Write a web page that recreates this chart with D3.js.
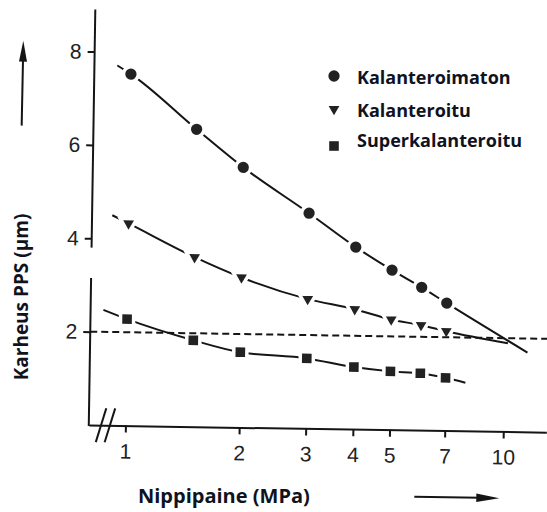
<!DOCTYPE html>
<html>
<head>
<meta charset="utf-8">
<script src="https://cdn.jsdelivr.net/npm/d3@7/dist/d3.min.js"></script>
<style>
  html, body { margin: 0; padding: 0; background: #fff; }
  svg { display: block; }
</style>
</head>
<body>
<svg id="chart" width="547" height="512"></svg>
<script>
// ---- data ----
const seriesNames = ["Kalanteroimaton", "Kalanteroitu", "Superkalanteroitu"];
const pressure = [1, 1.5, 2, 3, 4, 5, 6, 7];                 // MPa
const kalanteroimaton   = [7.53, 6.37, 5.57, 4.61, 3.90, 3.42, 3.06, 2.73];
const kalanteroitu      = [4.33, 3.63, 3.21, 2.77, 2.57, 2.36, 2.25, 2.13];
const superkalanteroitu = [2.28, 1.85, 1.61, 1.50, 1.33, 1.25, 1.22, 1.13];
// fitted-curve end points (extensions of each trend line)
const fitStartX = [0.92, 0.905, 0.865];
const fitStartY = [7.71, 4.50, 2.47];
const fitEndX   = [11.5, 10.2, 7.9];
const fitEndY   = [1.70, 1.89, 1.03];
const refLevel = 2;                       // dashed reference line
const xTicks = [1, 2, 3, 4, 5, 7, 10];
const yTicks = [2, 4, 6, 8];
const yBreak = [3.8, 3.15];               // gap in the y axis
const xBreak = [0.862, 0.91];             // "//" marks on the x axis
const xTitle = "Nippipaine (MPa)";
const yTitle = "Karheus PPS (µm)";

const allSeries = [kalanteroimaton, kalanteroitu, superkalanteroitu];
const symbols = [d3.symbolCircle, d3.symbolTriangle, d3.symbolSquare];
const symSize = [100, 50, 92];
const symRot = [0, 180, 0];

const ink = "#151515";
const svg = d3.select("#chart");
svg.append("rect").attr("width", 547).attr("height", 512).attr("fill", "#fff");

// scanned figure is slightly rotated
const g = svg.append("g").attr("transform", "rotate(0.9,300,260)");

const x = d3.scaleLog().domain([0.8, 13]).range([91.4, 549]);
const y = d3.scaleLinear().domain([0, 8.9]).range([428.3, 12.8]);

// x axis
const xAxis = g.append("g").attr("transform", `translate(0,${y(0)})`)
  .call(d3.axisBottom(x).tickValues(xTicks).tickFormat(d3.format("d"))
        .tickSize(7).tickSizeOuter(0).tickPadding(11));
xAxis.select(".domain").attr("stroke", ink).attr("stroke-width", 2);
xAxis.selectAll(".tick line").attr("stroke", ink).attr("stroke-width", 2);
xAxis.selectAll(".tick text").attr("fill", "#222")
  .style("font-family", "'Liberation Sans', Arial, sans-serif").style("font-size", "21px");

// y axis
const yAxis = g.append("g").attr("transform", `translate(${x.range()[0]},0)`)
  .call(d3.axisLeft(y).tickValues(yTicks).tickSize(7).tickSizeOuter(0).tickPadding(6));
yAxis.select(".domain").remove();
yAxis.selectAll(".tick line").attr("stroke", ink).attr("stroke-width", 2);
yAxis.selectAll(".tick text").attr("fill", "#222")
  .style("font-family", "'Liberation Sans', Arial, sans-serif").style("font-size", "21px");
const x0 = x.range()[0];
g.append("line").attr("x1", x0).attr("x2", x0).attr("y1", y(8.9)).attr("y2", y(yBreak[0]))
  .attr("stroke", ink).attr("stroke-width", 2);
g.append("line").attr("x1", x0).attr("x2", x0).attr("y1", y(yBreak[1])).attr("y2", y(0) + 1)
  .attr("stroke", ink).attr("stroke-width", 2);

// x axis break marks
g.selectAll(".brk").data(xBreak).join("line").attr("class", "brk")
  .attr("x1", d => x(d) - 5).attr("y1", y(0) + 17)
  .attr("x2", d => x(d) + 5).attr("y2", y(0) - 17)
  .attr("stroke", ink).attr("stroke-width", 2);

// fitted curves
const line = d3.line().x(d => x(d[0])).y(d => y(d[1])).curve(d3.curveMonotoneX);
allSeries.forEach((vals, i) => {
  const pts = [[fitStartX[i], fitStartY[i]]]
    .concat(pressure.map((p, j) => [p, vals[j]]))
    .concat([[fitEndX[i], fitEndY[i]]]);
  g.append("path").datum(pts).attr("d", line)
    .attr("fill", "none").attr("stroke", ink).attr("stroke-width", 2);
});

// white halos around markers (gaps in the curves)
allSeries.forEach((vals, i) => {
  g.selectAll(".halo" + i).data(vals).join("path").attr("class", "halo" + i)
    .attr("d", d3.symbol().type(symbols[i]).size(symSize[i]))
    .attr("transform", (d, j) => `translate(${x(pressure[j])},${y(d)}) rotate(${symRot[i]})`)
    .attr("fill", "#fff").attr("stroke", "#fff").attr("stroke-width", 7);
});

// dashed reference line
g.append("line").attr("x1", x0).attr("x2", x.range()[1])
  .attr("y1", y(refLevel)).attr("y2", y(refLevel))
  .attr("stroke", ink).attr("stroke-width", 2).attr("stroke-dasharray", "7,4");

// markers
allSeries.forEach((vals, i) => {
  g.selectAll(".mk" + i).data(vals).join("path").attr("class", "mk" + i)
    .attr("d", d3.symbol().type(symbols[i]).size(symSize[i]))
    .attr("transform", (d, j) => `translate(${x(pressure[j])},${y(d)}) rotate(${symRot[i]})`)
    .attr("fill", "#222");
});

// direction arrows
g.append("line").attr("x1", 19.6).attr("y1", 130).attr("x2", 19.9).attr("y2", 62)
  .attr("stroke", ink).attr("stroke-width", 2);
g.append("path").attr("d", "M19.9,45 L15.9,66 L23.9,66 Z").attr("fill", ink);
g.append("line").attr("x1", 418).attr("y1", 495).attr("x2", 484).attr("y2", 495)
  .attr("stroke", ink).attr("stroke-width", 2);
g.append("path").attr("d", "M503,495 L480,490.8 L480,499.2 Z").attr("fill", ink);

// legend (overlay, not rotated)
const legFont = "'Open Sans', 'DejaVu Sans', sans-serif";
const legY = [76, 109, 146];
const legTextY = [84, 117, 147];
seriesNames.forEach((name, i) => {
  svg.append("path").attr("d", d3.symbol().type(symbols[i]).size(symSize[i])())
    .attr("transform", `translate(334,${legY[i]}) rotate(${symRot[i]})`).attr("fill", "#222");
  svg.append("text").attr("x", 357).attr("y", legTextY[i]).text(name)
    .attr("fill", "#0f1320").style("font-family", legFont)
    .style("font-weight", "bold").style("font-size", "18px");
});

// axis titles
svg.append("text").attr("x", 138).attr("y", 503).text(xTitle)
  .attr("fill", "#0f1320").style("font-family", legFont)
  .style("font-weight", "bold").style("font-size", "20px");
svg.append("text").attr("transform", "translate(28,297) rotate(-90)")
  .attr("text-anchor", "middle").text(yTitle)
  .attr("fill", "#0f1320").style("font-family", legFont)
  .style("font-weight", "bold").style("font-size", "19px");
</script>
</body>
</html>
